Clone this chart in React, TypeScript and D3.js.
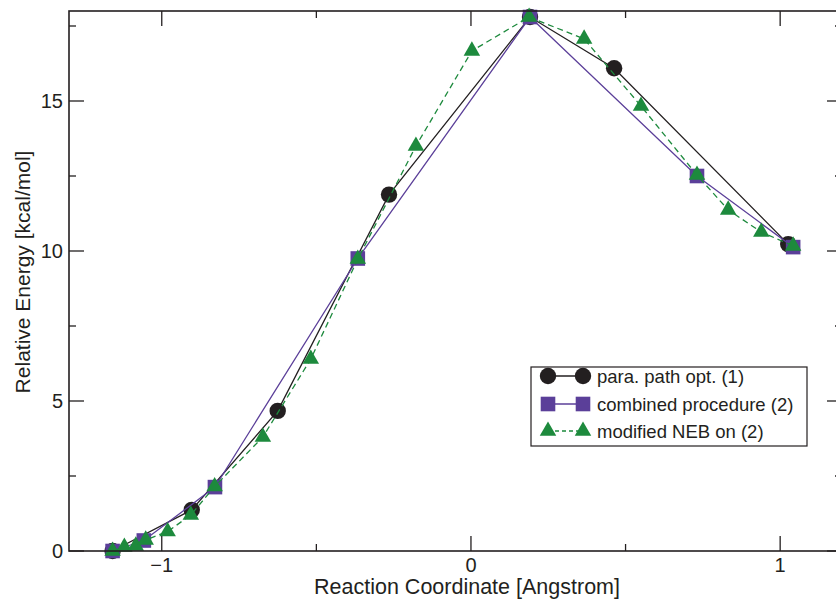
import React from 'react';
import * as d3 from 'd3';

// values
const paraX = [-1.159, -0.903, -0.625, -0.265, 0.191, 0.463, 1.026];
const paraY = [0, 1.37, 4.67, 11.88, 17.8, 16.09, 10.23];
const combX = [-1.159, -1.058, -0.828, -0.366, 0.191, 0.731, 1.042];
const combY = [0, 0.35, 2.13, 9.75, 17.8, 12.5, 10.13];
const nebX = [-1.159, -1.121, -1.084, -1.052, -0.981, -0.906, -0.829, -0.673, -0.518, -0.366, -0.178, 0.003, 0.188, 0.366, 0.55, 0.731, 0.832, 0.939, 1.042];
const nebY = [0, 0.13, 0.17, 0.37, 0.65, 1.2, 2.15, 3.8, 6.4, 9.73, 13.5, 16.67, 17.8, 17.07, 14.83, 12.53, 11.37, 10.63, 10.17];

const xMajor = [-1, 0, 1];
const xMinor = [-0.5, 0.5];
const yMajor = [0, 5, 10, 15];
const yMinor = [2.5, 7.5, 12.5, 17.5];

const seriesNames = ['para. path opt. (1)', 'combined procedure (2)', 'modified NEB on (2)'];

const W = 836;
const H = 601;
const left = 69, right = 842, top = 11, bottom = 551;
const font = '"Liberation Sans", Arial, Helvetica, sans-serif';

const BLACK = '#231f20';
const PURPLE = '#5b3f99';
const GREEN = '#1d8a3d';

function marker(kind: string, x: number, y: number, key: any) {
  if (kind === 'circle') return <circle key={key} cx={x} cy={y} r={8.2} fill={BLACK} />;
  if (kind === 'square') return <rect key={key} x={x - 7.3} y={y - 7.3} width={14.6} height={14.6} fill={PURPLE} />;
  const s = 16.5, h = s * Math.sqrt(3) / 2;
  const pts = [[x, y - (2 * h) / 3], [x - s / 2, y + h / 3], [x + s / 2, y + h / 3]];
  return <polygon key={key} points={pts.map(p => p.join(',')).join(' ')} fill={GREEN} />;
}

export default function App() {
  const x = d3.scaleLinear().domain([-1.3, 1.2]).range([left, right]);
  const y = d3.scaleLinear().domain([0, 18]).range([bottom, top]);
  const line = d3.line<[number, number]>().x(d => x(d[0])).y(d => y(d[1]));

  const sets = [
    { xs: paraX, ys: paraY, kind: 'circle', color: BLACK, dash: undefined },
    { xs: combX, ys: combY, kind: 'square', color: PURPLE, dash: undefined },
    { xs: nebX, ys: nebY, kind: 'triangle', color: GREEN, dash: '6,4' },
  ];

  const legX = 531, legY = 367, legW = 276, legH = 79;
  const rowY = [376, 404, 431];

  return (
    <svg width={W} height={H} style={{ position: 'absolute', left: 0, top: 0, background: '#fff' }} fontFamily={font}>
      {sets.map((s, i) => (
        <g key={i}>
          <path d={line(s.xs.map((v, j) => [v, s.ys[j]]) as [number, number][]) || ''} fill="none"
            stroke={s.color} strokeWidth={1.3} strokeDasharray={s.dash} />
          {s.xs.map((v, j) => marker(s.kind, x(v), y(s.ys[j]), j))}
        </g>
      ))}

      {/* frame */}
      <rect x={left} y={top} width={right - left} height={bottom - top} fill="none" stroke={BLACK} strokeWidth={1.6} />
      {xMajor.map(v => (
        <g key={'xm' + v}>
          <line x1={x(v)} x2={x(v)} y1={bottom} y2={bottom - 15} stroke={BLACK} strokeWidth={1.3} />
          <line x1={x(v)} x2={x(v)} y1={top} y2={top + 15} stroke={BLACK} strokeWidth={1.3} />
          <text x={x(v)} y={bottom + 21} textAnchor="middle" fontSize={20} fill={BLACK}>{v < 0 ? '\u2212' + Math.abs(v) : v}</text>
        </g>
      ))}
      {xMinor.map(v => (
        <g key={'xn' + v}>
          <line x1={x(v)} x2={x(v)} y1={bottom} y2={bottom - 7} stroke={BLACK} strokeWidth={1.3} />
          <line x1={x(v)} x2={x(v)} y1={top} y2={top + 7} stroke={BLACK} strokeWidth={1.3} />
        </g>
      ))}
      {yMajor.map(v => (
        <g key={'ym' + v}>
          <line x1={left} x2={left + 15} y1={y(v)} y2={y(v)} stroke={BLACK} strokeWidth={1.3} />
          <line x1={right} x2={right - 15} y1={y(v)} y2={y(v)} stroke={BLACK} strokeWidth={1.3} />
          <text x={left - 6} y={y(v) + 7} textAnchor="end" fontSize={20} fill={BLACK}>{v}</text>
        </g>
      ))}
      {yMinor.map(v => (
        <g key={'yn' + v}>
          <line x1={left} x2={left + 7} y1={y(v)} y2={y(v)} stroke={BLACK} strokeWidth={1.3} />
          <line x1={right} x2={right - 7} y1={y(v)} y2={y(v)} stroke={BLACK} strokeWidth={1.3} />
        </g>
      ))}

      <text x={467} y={594} textAnchor="middle" fontSize={21.5} fill={BLACK}>Reaction Coordinate [Angstrom]</text>
      <text transform={`translate(30,272) rotate(-90)`} textAnchor="middle" fontSize={21} fill={BLACK}>Relative Energy [kcal/mol]</text>

      {/* legend */}
      <rect x={legX} y={legY} width={legW} height={legH} fill="#fff" stroke={BLACK} strokeWidth={1.2} />
      {sets.map((s, i) => (
        <g key={'leg' + i}>
          <line x1={548} x2={583} y1={rowY[i]} y2={rowY[i]} stroke={s.color} strokeWidth={1.3} strokeDasharray={s.dash ? '4,3' : undefined} />
          {marker(s.kind, 548, rowY[i], 'a')}
          {marker(s.kind, 583, rowY[i], 'b')}
          <text x={597} y={rowY[i] + 6.5} fontSize={18.5} fill={BLACK}>{seriesNames[i]}</text>
        </g>
      ))}
    </svg>
  );
}
